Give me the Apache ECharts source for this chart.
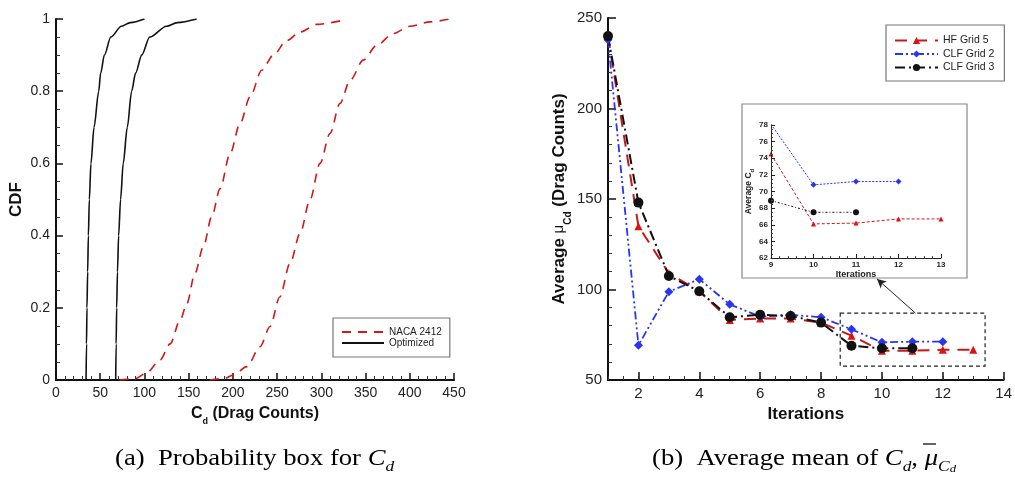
<!DOCTYPE html>
<html><head><meta charset="utf-8">
<script src="https://cdn.jsdelivr.net/npm/echarts@6/dist/echarts.min.js"></script>
<style>html,body{margin:0;padding:0;background:#fff}#c{width:1015px;height:481px}</style>
</head><body><div id="c"></div><script>
// ---------- Left panel: CDF curves ----------
const optLowX  = [34, 34.5, 35, 35.8, 36.6, 37.7, 39.5, 43, 48.3, 50.5, 54.7, 62, 74, 84, 100];
const optLowY  = [0, 0.1, 0.2, 0.3, 0.4, 0.5, 0.6, 0.7, 0.8, 0.85, 0.9, 0.95, 0.98, 0.99, 1];
const optHighX = [67.5, 68, 68.6, 69.5, 70.8, 73, 76, 80.6, 85.5, 90, 96.9, 106, 125, 137, 159];
const optHighY = [0, 0.1, 0.2, 0.3, 0.4, 0.5, 0.6, 0.7, 0.8, 0.85, 0.9, 0.95, 0.98, 0.99, 1];
const nacaLowX  = [72, 90, 102.5, 117.6, 129, 140.4, 148, 157, 166.6, 176, 185.5, 196.8, 208, 219.4, 232.6, 245.8, 260.8, 276, 294.8, 327];
const nacaLowY  = [0, 0.004, 0.02, 0.055, 0.10, 0.166, 0.212, 0.295, 0.369, 0.452, 0.53, 0.627, 0.71, 0.784, 0.858, 0.9, 0.94, 0.964, 0.985, 0.998];
const nacaHighX = [174, 190, 200.6, 215.8, 230.7, 242, 253, 264.6, 276, 287, 298.5, 309.8, 321, 332.5, 347.5, 362.6, 381.4, 400, 422.9, 445.5];
const nacaHighY = [0, 0.004, 0.014, 0.037, 0.092, 0.148, 0.23, 0.323, 0.406, 0.498, 0.6, 0.683, 0.766, 0.83, 0.886, 0.927, 0.96, 0.98, 0.992, 1];

// ---------- Right panel: average mean vs iterations ----------
const iterHF   = [1, 2, 3, 4, 5, 6, 7, 8, 9, 10, 11, 12, 13];
const hfGrid5  = [240, 135, 109, 99, 83.2, 84, 84, 81.7, 74.5, 66.1, 66.2, 66.7, 66.7];
const iterCLF2 = [1, 2, 3, 4, 5, 6, 7, 8, 9, 10, 11, 12];
const clfGrid2 = [238, 69.2, 98.8, 105.7, 91.8, 85, 86, 84.7, 78.0, 70.8, 71.2, 71.2];
const iterCLF3 = [1, 2, 3, 4, 5, 6, 7, 8, 9, 10, 11];
const clfGrid3 = [240, 148, 107.5, 99, 84.7, 86, 85.4, 81.7, 68.9, 67.5, 67.5];

// Inset (zoom on iterations 9..13)
const insetIterHF = [9, 10, 11, 12, 13];
const insetHF     = [74.5, 66.1, 66.2, 66.7, 66.7];
const insetIterC2 = [9, 10, 11, 12];
const insetC2     = [78.1, 70.8, 71.2, 71.2];
const insetIterC3 = [9, 10, 11];
const insetC3     = [68.9, 67.5, 67.5];

// zoom box and arrow (data coordinates of the main right axes)
const zoomBoxX = [8.63, 13.39];
const zoomBoxY = [57.7, 87];
const arrowFrom = [11.1, 87];
const arrowTo   = [9.84, 105.8];

const rightXTicks = [2, 4, 6, 8, 10, 12, 14];

const zip = (a, b) => a.map((v, i) => [v, b[i]]);
const RED = '#d01818', BLUE = '#2a35f0', BLACK = '#111';
const FONT = '"Liberation Sans", Arial, sans-serif';
const SERIF = '"Liberation Serif", "Times New Roman", serif';
const lab = {color: '#222', fontSize: 14, fontFamily: FONT};
const axLine = {lineStyle: {color: '#111', width: 2}};
const capRich = {
  n: {fontFamily: SERIF, fontSize: 23, lineHeight: 28, verticalAlign: 'top', color: '#111'},
  i: {fontFamily: SERIF, fontSize: 23, fontStyle: 'italic', lineHeight: 28, verticalAlign: 'top', color: '#111'},
  s: {fontFamily: SERIF, fontSize: 15, fontStyle: 'italic', lineHeight: 18, verticalAlign: 'bottom', color: '#111'},
  ss: {fontFamily: SERIF, fontSize: 11, fontStyle: 'italic', lineHeight: 11, verticalAlign: 'bottom', color: '#111'}
};

const chart = echarts.init(document.getElementById('c'), null, {renderer: 'canvas'});
chart.setOption({
  animation: false,
  backgroundColor: '#fff',
  textStyle: {fontFamily: FONT},
  grid: [
    {left: 56, top: 19, width: 398, height: 361},
    {left: 608, top: 18, width: 399, height: 362},
    {left: 771, top: 125, width: 170, height: 133}
  ],
  graphic: [
    {type: 'rect', shape: {x: 742, y: 104, width: 225, height: 174}, style: {fill: '#fff', stroke: '#888', lineWidth: 1.2}, z: 1},
    {type: 'text', x: 115, y: 447, scaleX: 1.16, style: {text: '{n|(a)  Probability box for }{i|C}{s|d}', rich: capRich}},
    {type: 'text', x: 652, y: 447, scaleX: 1.16, style: {text: '{n|(b)  Average mean of }{i|C}{s|d}{n|, }{i|μ}{s|C}{ss|d}', rich: capRich}},
    {type: 'line', shape: {x1: 923, y1: 444, x2: 936, y2: 444}, style: {stroke: '#111', lineWidth: 1.3}}
  ],
  legend: [
    {left: 333, top: 318, orient: 'vertical', data: ['NACA 2412', 'Optimized'],
     itemWidth: 42, itemHeight: 8, itemGap: 1, padding: [9, 8, 9, 8],
     borderColor: '#777', borderWidth: 1.2, backgroundColor: '#fff',
     itemStyle: {opacity: 0},
     textStyle: {fontSize: 10, color: '#222', fontFamily: FONT}},
    {left: 886, top: 25, orient: 'vertical', data: ['HF Grid 5', 'CLF Grid 2', 'CLF Grid 3'],
     itemWidth: 43, itemHeight: 9, itemGap: 2.5, padding: [10, 10, 8, 8],
     borderColor: '#777', borderWidth: 1.2, backgroundColor: '#fff',
     textStyle: {fontSize: 10.5, color: '#222', fontFamily: FONT}}
  ],
  xAxis: [
    {gridIndex: 0, type: 'value', min: 0, max: 450, interval: 50,
     axisLine: axLine, axisTick: {inside: true, length: 7, lineStyle: {color: '#111', width: 1.5}},
     minorTick: {show: true, splitNumber: 5, length: 4, lineStyle: {color: '#333'}},
     splitLine: {show: false}, axisLabel: Object.assign({margin: 6}, lab),
     name: '{b|C}{s|d}{b| (Drag Counts)}', nameLocation: 'middle', nameGap: 26,
     nameTextStyle: {rich: {
       b: {fontSize: 16, fontWeight: 'bold', color: '#111', fontFamily: FONT, lineHeight: 20, verticalAlign: 'top'},
       s: {fontSize: 9, fontWeight: 'bold', color: '#111', fontFamily: FONT, lineHeight: 12, verticalAlign: 'bottom'}}}},
    {gridIndex: 1, type: 'value', min: 1, max: 14, position: 'bottom',
     axisLine: axLine,
     axisTick: {inside: true, length: 8, customValues: rightXTicks, lineStyle: {color: '#111', width: 1.5}},
     splitLine: {show: false},
     axisLabel: Object.assign({margin: 6, customValues: rightXTicks}, lab, {fontSize: 15}),
     name: 'Iterations', nameLocation: 'middle', nameGap: 17,
     nameTextStyle: {fontSize: 17, fontWeight: 'bold', color: '#111', fontFamily: FONT}},
    {gridIndex: 1, type: 'value', min: 1, max: 14, interval: 0.5, position: 'bottom',
     axisLine: {show: false}, axisLabel: {show: false}, splitLine: {show: false},
     axisTick: {inside: true, length: 4, lineStyle: {color: '#333'}}},
    {gridIndex: 2, type: 'value', min: 9, max: 13, interval: 1, position: 'bottom', z: 20,
     axisLine: {lineStyle: {color: '#222', width: 1}},
     axisTick: {inside: true, length: 4, lineStyle: {color: '#222'}},
     minorTick: {show: true, splitNumber: 5, length: 2, lineStyle: {color: '#444'}},
     splitLine: {show: false},
     axisLabel: {fontSize: 8, fontWeight: 'bold', color: '#222', margin: 3, fontFamily: FONT},
     name: 'Iterations', nameLocation: 'middle', nameGap: 11,
     nameTextStyle: {fontSize: 9, fontWeight: 'bold', color: '#222', fontFamily: FONT}}
  ],
  yAxis: [
    {gridIndex: 0, type: 'value', min: 0, max: 1, interval: 0.2,
     axisLine: axLine, axisTick: {inside: true, length: 7, lineStyle: {color: '#111', width: 1.5}},
     minorTick: {show: true, splitNumber: 4, length: 4, lineStyle: {color: '#333'}},
     splitLine: {show: false}, axisLabel: Object.assign({margin: 6}, lab),
     name: 'CDF', nameLocation: 'middle', nameGap: 31,
     nameTextStyle: {fontSize: 17, fontWeight: 'bold', color: '#111', fontFamily: FONT}},
    {gridIndex: 1, type: 'value', min: 50, max: 250, interval: 50,
     axisLine: axLine, axisTick: {inside: true, length: 8, lineStyle: {color: '#111', width: 1.5}},
     minorTick: {show: true, splitNumber: 5, length: 4, lineStyle: {color: '#333'}},
     splitLine: {show: false}, axisLabel: Object.assign({margin: 6}, lab, {fontSize: 15}),
     name: '{b|Average }{g|μ}{s|Cd}{b| (Drag Counts)}', nameLocation: 'middle', nameGap: 33,
     nameTextStyle: {rich: {
       b: {fontSize: 17, fontWeight: 'bold', color: '#111', fontFamily: FONT, lineHeight: 22, verticalAlign: 'top'},
       g: {fontSize: 15, color: '#111', fontFamily: FONT, lineHeight: 22, verticalAlign: 'top'},
       s: {fontSize: 10, fontWeight: 'bold', color: '#111', fontFamily: FONT, lineHeight: 13, verticalAlign: 'bottom'}}}},
    {gridIndex: 2, type: 'value', min: 62, max: 78, interval: 2, z: 20,
     axisLine: {lineStyle: {color: '#222', width: 1}},
     axisTick: {inside: true, length: 4, lineStyle: {color: '#222'}},
     minorTick: {show: true, splitNumber: 4, length: 2, lineStyle: {color: '#444'}},
     splitLine: {show: false},
     axisLabel: {fontSize: 8, fontWeight: 'bold', color: '#222', margin: 3, fontFamily: FONT},
     name: '{b|Average C}{s|d}', nameLocation: 'middle', nameGap: 15,
     nameTextStyle: {rich: {
       b: {fontSize: 8.5, fontWeight: 'bold', color: '#222', fontFamily: FONT, lineHeight: 11, verticalAlign: 'top'},
       s: {fontSize: 6, fontWeight: 'bold', color: '#222', fontFamily: FONT, lineHeight: 8, verticalAlign: 'bottom'}}}}
  ],
  series: [
    {name: 'Optimized', type: 'line', xAxisIndex: 0, yAxisIndex: 0, data: zip(optLowX, optLowY),
     showSymbol: false, symbol: 'none', smooth: 0.3, smoothMonotone: 'x',
     lineStyle: {color: BLACK, width: 1.6}, itemStyle: {color: BLACK}},
    {name: 'Optimized', type: 'line', xAxisIndex: 0, yAxisIndex: 0, data: zip(optHighX, optHighY),
     showSymbol: false, symbol: 'none', smooth: 0.3, smoothMonotone: 'x',
     lineStyle: {color: BLACK, width: 1.6}, itemStyle: {color: BLACK}},
    {name: 'NACA 2412', type: 'line', xAxisIndex: 0, yAxisIndex: 0, data: zip(nacaLowX, nacaLowY),
     showSymbol: false, symbol: 'none', smooth: 0.3, smoothMonotone: 'x',
     lineStyle: {color: RED, width: 1.6, type: [9, 7]}, itemStyle: {color: RED}},
    {name: 'NACA 2412', type: 'line', xAxisIndex: 0, yAxisIndex: 0, data: zip(nacaHighX, nacaHighY),
     showSymbol: false, symbol: 'none', smooth: 0.3, smoothMonotone: 'x',
     lineStyle: {color: RED, width: 1.6, type: [9, 7]}, itemStyle: {color: RED}},

    {name: 'HF Grid 5', type: 'line', xAxisIndex: 1, yAxisIndex: 1, data: zip(iterHF, hfGrid5),
     symbol: 'triangle', symbolSize: 8, lineStyle: {color: '#c41a1a', width: 2, type: [12, 8]},
     itemStyle: {color: '#e01010'},
     markArea: {silent: true, itemStyle: {color: 'rgba(0,0,0,0)', borderColor: '#222', borderWidth: 1.2, borderType: [4, 3]},
       data: [[{coord: [zoomBoxX[0], zoomBoxY[1]]}, {coord: [zoomBoxX[1], zoomBoxY[0]]}]]},
     markLine: {silent: true, symbol: ['none', 'arrow'], symbolSize: [7, 9], label: {show: false},
       lineStyle: {color: '#222', width: 1, type: 'solid'},
       data: [[{coord: arrowFrom}, {coord: arrowTo}]]}},
    {name: 'CLF Grid 2', type: 'line', xAxisIndex: 1, yAxisIndex: 1, data: zip(iterCLF2, clfGrid2),
     symbol: 'diamond', symbolSize: 9, lineStyle: {color: BLUE, width: 1.8, type: [8, 3, 2, 3, 2, 3]},
     itemStyle: {color: BLUE}},
    {name: 'CLF Grid 3', type: 'line', xAxisIndex: 1, yAxisIndex: 1, data: zip(iterCLF3, clfGrid3),
     symbol: 'circle', symbolSize: 10, lineStyle: {color: BLACK, width: 2, type: [10, 4, 2, 4]},
     itemStyle: {color: BLACK}},

    {name: 'inset HF', type: 'line', xAxisIndex: 3, yAxisIndex: 2, data: zip(insetIterHF, insetHF), z: 12,
     symbol: 'triangle', symbolSize: 5, lineStyle: {color: '#d01818', width: 1, type: [3, 2]}, itemStyle: {color: '#e01010'}},
    {name: 'inset C2', type: 'line', xAxisIndex: 3, yAxisIndex: 2, data: zip(insetIterC2, insetC2), z: 12,
     symbol: 'diamond', symbolSize: 6, lineStyle: {color: BLUE, width: 1, type: [2, 1.5]}, itemStyle: {color: BLUE}},
    {name: 'inset C3', type: 'line', xAxisIndex: 3, yAxisIndex: 2, data: zip(insetIterC3, insetC3), z: 12,
     symbol: 'circle', symbolSize: 6, lineStyle: {color: BLACK, width: 1, type: [2, 2, 1, 2]}, itemStyle: {color: BLACK}}
  ]
});
</script></body></html>
